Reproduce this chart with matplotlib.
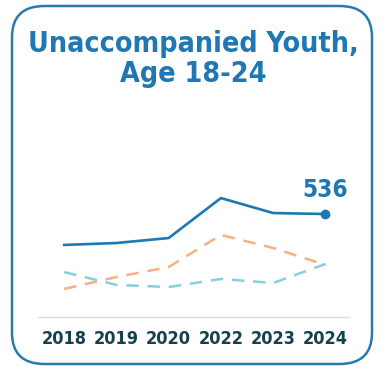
import matplotlib
matplotlib.use("Agg")
import matplotlib.pyplot as plt
from matplotlib.patches import FancyBboxPatch

years = ['2018', '2019', '2020', '2022', '2023', '2024']
youth_total = [375, 385, 411, 619, 541, 536]
series_orange = [146, 208, 260, 427, 359, 271]
series_light = [234, 167, 156, 198, 177, 276]

blue = '#1f78b4'
orange = '#f5b183'
light = '#86cfe0'
dark = '#17404f'

fig = plt.figure(figsize=(3.81, 3.66), dpi=100)

# rounded card border
card = FancyBboxPatch((12 / 381, 2 / 366), 360 / 381, 358 / 366,
                      boxstyle='round,pad=0,rounding_size=0.085',
                      transform=fig.transFigure, facecolor='none',
                      edgecolor='#2a7ab0', linewidth=1.8, zorder=-1)
fig.patches.append(card)

fig.text(0.508, 0.838, 'Unaccompanied Youth,\nAge 18-24', ha='center', va='center',
         fontsize=20.5, fontweight='heavy', color=blue, linespacing=1.08,
         family='DejaVu Sans', stretch='condensed')

ax = fig.add_axes([38 / 381, 1 - 317 / 366, 311 / 381, 137 / 366])
x = range(len(years))
ax.plot(x, youth_total, color=blue, linewidth=1.9)
ax.plot(x, series_orange, color=orange, linewidth=1.8, linestyle=(0, (5, 3.5)))
ax.plot(x, series_light, color=light, linewidth=1.8, linestyle=(0, (5, 3.5)))
ax.plot([5], [youth_total[-1]], 'o', color=blue, markersize=6)
ax.annotate(str(youth_total[-1]), (5, youth_total[-1]), xytext=(0, 9),
            textcoords='offset points', ha='center', va='bottom',
            fontsize=17.5, fontweight='bold', color=blue,
            family='DejaVu Sans', stretch='condensed')

ax.set_xlim(-0.5, 5.45)
ax.set_ylim(0, 713)
ax.set_xticks(list(x))
ax.set_xticklabels(years, fontsize=13, fontweight='bold', color=dark,
                   family='DejaVu Sans', stretch='condensed')
ax.tick_params(axis='x', length=0, pad=9)
ax.set_yticks([])
for side in ['top', 'right', 'left']:
    ax.spines[side].set_visible(False)
ax.spines['bottom'].set_color('#dddddd')
ax.spines['bottom'].set_linewidth(1)
ax.patch.set_alpha(0)

fig.savefig('out.png', dpi=100)
